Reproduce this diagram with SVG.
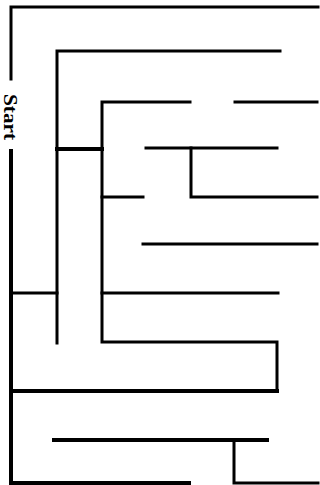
<svg xmlns="http://www.w3.org/2000/svg" width="320" height="485" viewBox="0 0 320 485">
<style>
.w{fill:none;stroke:#000;stroke-width:3;stroke-linecap:square;stroke-linejoin:miter}
.t{stroke-width:4}
.lbl{font-family:"Liberation Serif","DejaVu Serif",serif;font-weight:bold;font-size:18px;fill:#000}
</style>
<rect width="320" height="485" fill="#fff"/>
<g id="walls">
<polyline class="w" points="11,79 11,7 318,7"/>
<polyline class="w t" points="11,151 11,483 189,483"/>
<polyline class="w" points="57,343 57,51 280,51"/>
<polyline class="w" points="277,391 277,342 102,342 102,102 190,102"/>
<line class="w" x1="235" y1="102" x2="317" y2="102"/>
<line class="w t" x1="57" y1="149" x2="102" y2="149"/>
<line class="w" x1="146" y1="148" x2="277" y2="148"/>
<polyline class="w" points="191,148 191,197 317,197"/>
<line class="w" x1="102" y1="197" x2="143" y2="197"/>
<line class="w" x1="143" y1="244" x2="317" y2="244"/>
<line class="w" x1="11" y1="293" x2="57" y2="293"/>
<line class="w" x1="102" y1="293" x2="278" y2="293"/>
<line class="w t" x1="11" y1="391" x2="277" y2="391"/>
<line class="w t" x1="54" y1="440" x2="267" y2="440"/>
<polyline class="w" points="234,440 234,483 318,483"/>
</g>
<g id="start">
<text class="lbl" transform="translate(4,94) rotate(90)" textLength="46" lengthAdjust="spacingAndGlyphs">Start</text>
</g>
</svg>
